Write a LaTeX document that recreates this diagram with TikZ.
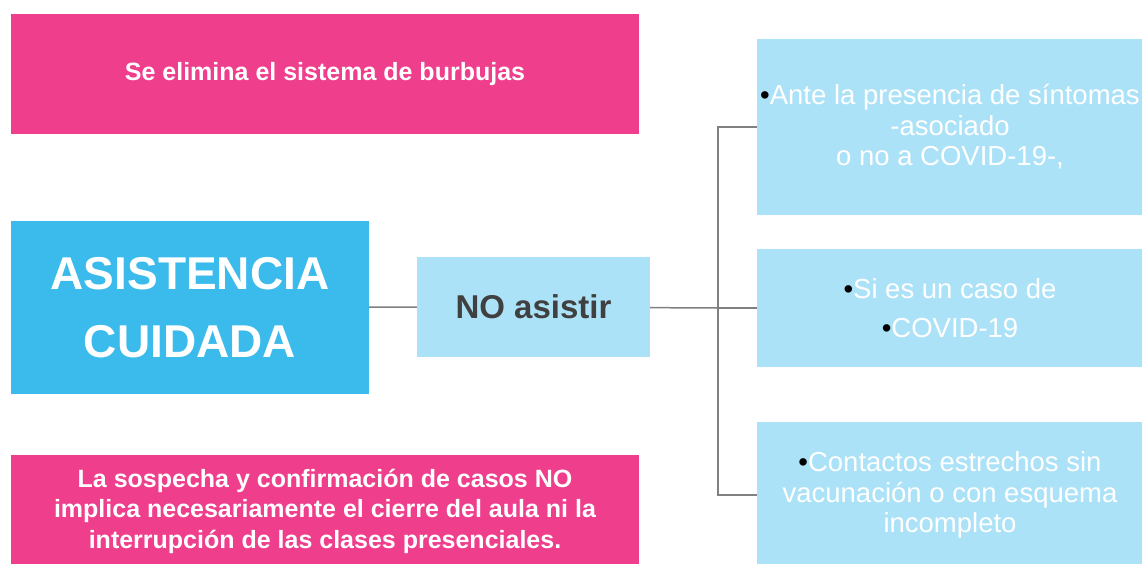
\documentclass[tikz,border=0pt]{standalone}
\usepackage{fontspec}
\setmainfont{Liberation Sans}
\usepackage{tikz}
\usetikzlibrary{positioning}
\definecolor{rosa}{RGB}{238,62,140}
\definecolor{azul}{RGB}{59,186,236}
\definecolor{celeste}{RGB}{172,226,247}
\definecolor{gris}{RGB}{128,128,128}
\definecolor{oscuro}{RGB}{64,64,64}
\tikzstyle{rosabox} = [rectangle, minimum width=628pt, minimum height=120pt, fill=rosa, text=white, font=\fontsize{25}{30.5}\selectfont\bfseries, align=center, inner sep=0pt]
\tikzstyle{titulo} = [rectangle, minimum width=358pt, minimum height=173pt, fill=azul, text=white, font=\fontsize{46}{68}\selectfont\bfseries, align=center, inner sep=0pt]
\tikzstyle{centro} = [rectangle, minimum width=233pt, minimum height=100pt, fill=celeste, text=oscuro, font=\fontsize{33}{40}\selectfont\bfseries, inner sep=0pt]
\tikzstyle{caso} = [rectangle, minimum width=386pt, fill=celeste, text=white, font=\fontsize{27.5}{30.5}\selectfont, align=center, inner sep=0pt]
\tikzstyle{linea} = [draw=gris, line width=1.5pt]
\newcommand{\punto}{\textcolor{black}{•}}

\begin{document}
\begin{tikzpicture}[x=1pt,y=-1pt]
\useasboundingbox (0,0) rectangle (1142,563);
\node (burbujas) [rosabox] at (325,74) {Se elimina el sistema de burbujas};
\node (asis) [titulo] at (190,307.5) {ASISTENCIA\\CUIDADA};
\node (noasis) [centro] at (533.5,307) {NO asistir};
\node (sint) [caso, minimum height=176pt] at (950,127) {\punto Ante la presencia de síntomas\\-asociado\\o no a COVID-19-,};
\node (covid) [caso, minimum height=118pt, font=\fontsize{27.5}{39}\selectfont] at (950,308) {\punto Si es un caso de\\\punto COVID-19};
\node (contac) [caso, minimum height=146pt] at (950,495) {\punto Contactos estrechos sin\\vacunación o con esquema\\incompleto};
\node (sospecha) [rosabox, minimum height=112pt] at (325,511) {La sospecha y confirmación de casos NO\\implica necesariamente el cierre del aula ni la\\interrupción de las clases presenciales.};
\coordinate (fork) at (718,308);
\draw[linea] (asis) -- (noasis);
\draw[linea] (noasis) -- (fork);
\draw[linea] (sint.west) -| (fork) |- (contac.west);
\draw[linea] (fork) -- (covid.west);
\end{tikzpicture}
\end{document}
